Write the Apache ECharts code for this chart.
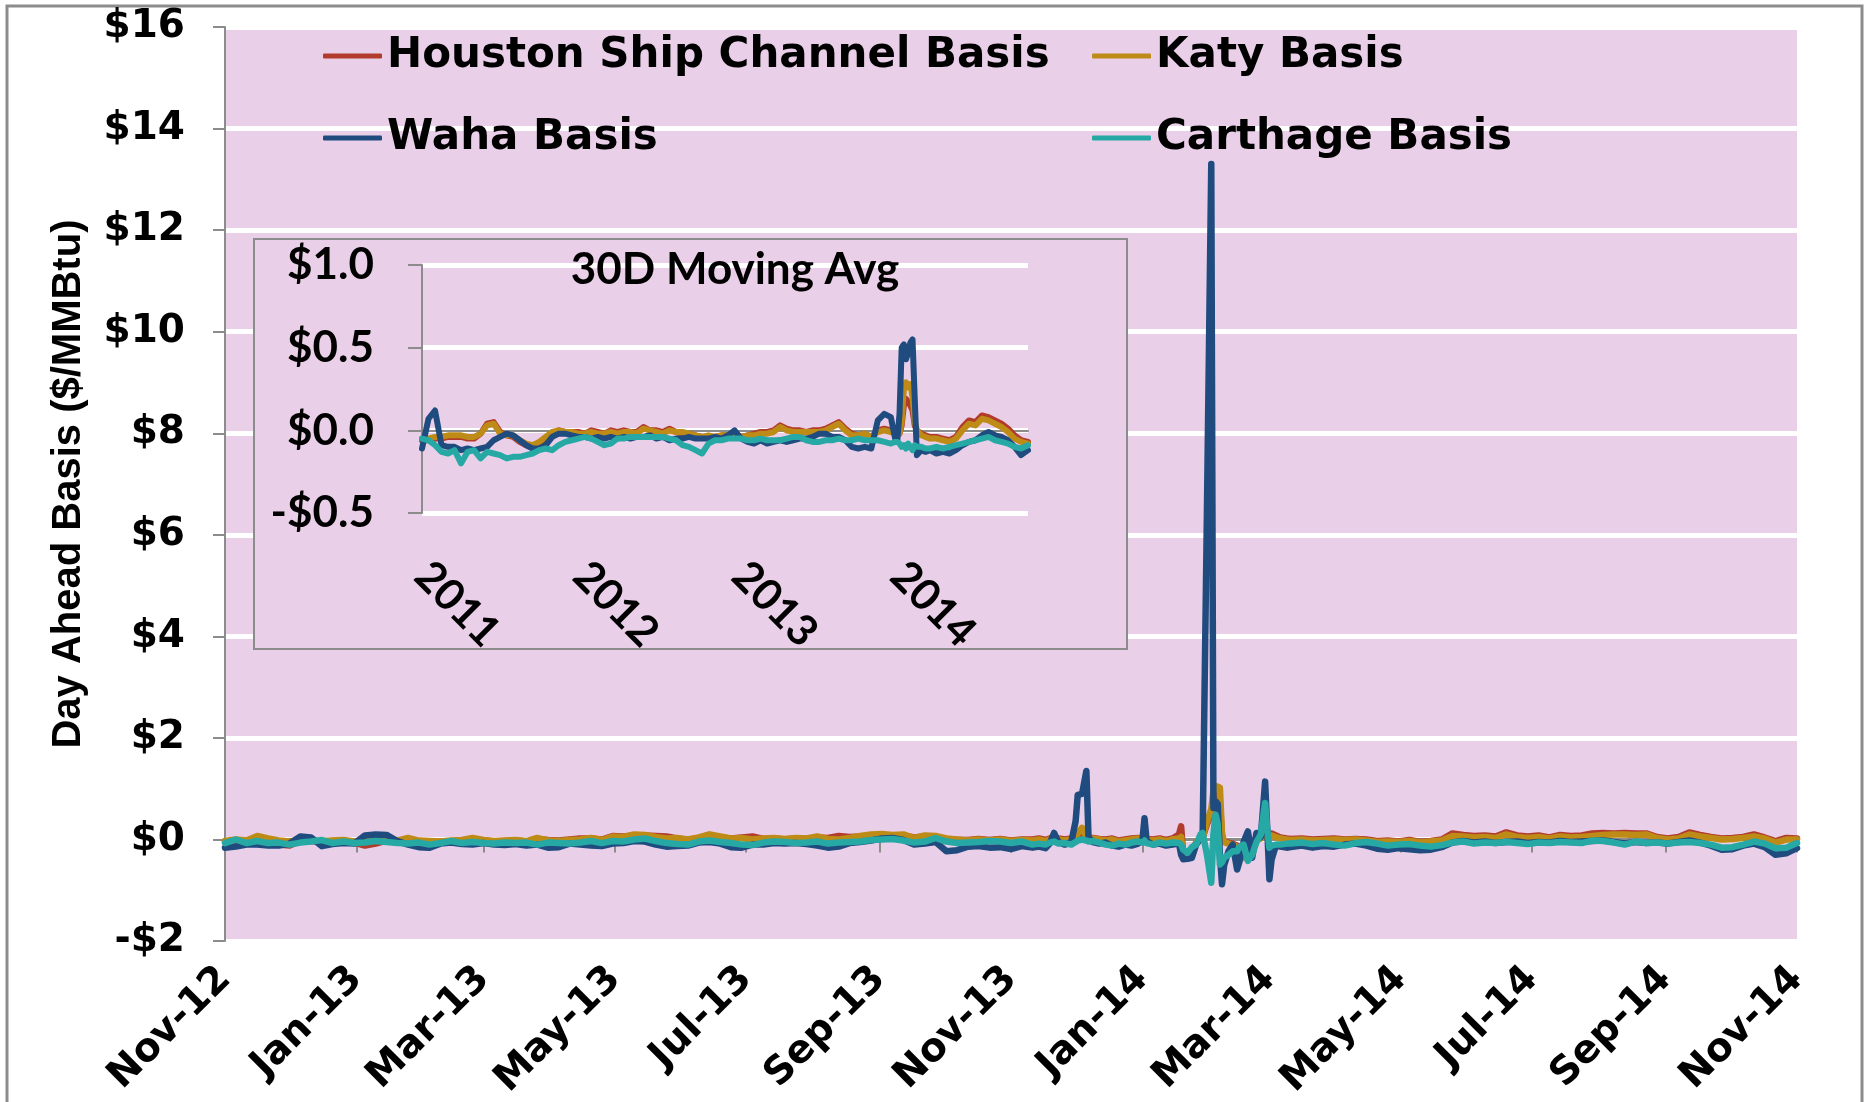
<!DOCTYPE html>
<html><head><meta charset="utf-8">
<script src="https://cdn.jsdelivr.net/npm/echarts@6/dist/echarts.min.js"></script>
<style>html,body{margin:0;padding:0;background:#fff}#c{width:1866px;height:1102px}</style>
</head><body><div id="c"></div>
<script>
// ---------- main chart: day offsets from 2012-11-01 ----------
const mainDays = [
0,5,10,15,20,25,30,35,40,45,50,55,60,65,70,75,80,85,90,95,100,105,110,115,120,125,130,135,140,145,150,155,160,165,170,175,180,185,
190,195,200,205,210,215,220,225,230,235,240,245,250,255,260,265,270,275,280,285,290,295,300,305,310,315,320,325,330,335,340,345,350,355,360,365,370,
375,378,381,383,385,387,390,393,395,396,398,400,401,403,406,409,412,415,418,421,424,426,427,428,431,434,437,440,443,444,445,447,449,451,453,454,456,458,459,460,461,462,463,464,466,468,470,471,473,475,477,479,481,483,484,485,486,488,490,493,
495,500,505,510,515,520,525,530,535,540,545,550,555,560,565,570,575,580,585,590,595,600,605,610,615,620,625,630,635,640,645,650,655,660,665,670,675,680,685,690,695,700,705,710,715,720,725,730];

const houston = [
-0.04,-0.02,-0.03,0.02,-0.02,-0.1,-0.12,-0.03,-0.03,-0.05,-0.03,-0.02,-0.06,-0.12,-0.08,-0.02,-0.04,0.0,-0.04,-0.05,-0.06,-0.04,-0.03,0.0,-0.02,-0.04,-0.03,-0.02,-0.04,0.01,-0.01,-0.02,0.0,0.02,0.02,0.0,0.07,0.06,
0.08,0.08,0.07,0.06,0.02,-0.01,0.03,0.09,0.04,0.02,0.04,0.06,0.01,0.02,0.0,0.02,0.01,0.04,0.03,0.07,0.05,0.06,0.08,0.09,0.08,0.08,0.04,0.06,0.05,0.01,-0.01,-0.01,0.01,-0.01,0.01,-0.02,0.0,
0.0,0.02,-0.01,0.02,0.04,0.02,0.0,0.02,0.04,0.08,0.1,0.04,0.01,0.03,0.01,0.0,0.02,-0.02,0.0,0.02,0.03,0.02,0.04,0.01,0.0,0.02,-0.01,0.02,0.1,0.26,-0.3,-0.35,-0.3,-0.05,0.0,0.04,0.3,0.5,0.8,0.88,0.85,0.7,0.08,-0.04,-0.06,-0.08,-0.12,-0.15,-0.3,-0.12,-0.04,0.02,0.04,0.1,0.08,0.1,0.12,0.08,0.04,0.02,
0.01,0.02,0.0,0.01,0.02,0.0,0.01,0.0,-0.03,-0.02,-0.04,-0.01,-0.05,-0.03,0.0,0.12,0.09,0.07,0.08,0.06,0.14,0.08,0.06,0.08,0.04,0.09,0.07,0.08,0.12,0.13,0.12,0.13,0.12,0.12,0.05,0.02,0.05,0.14,0.09,0.05,0.02,0.03,0.05,0.1,0.04,-0.03,0.03,0.02];

const katy = [
-0.03,0.0,-0.02,0.07,0.02,-0.02,-0.04,-0.01,-0.02,-0.03,-0.02,-0.01,-0.04,-0.03,-0.01,0.0,-0.02,0.03,-0.02,-0.03,-0.04,-0.02,-0.01,0.03,-0.01,-0.03,-0.02,-0.01,-0.03,0.03,-0.02,-0.03,-0.01,0.0,0.03,-0.01,0.06,0.05,
0.1,0.09,0.05,0.02,0.03,0.0,0.04,0.1,0.06,0.02,0.03,0.0,0.02,0.03,0.01,0.03,0.02,0.06,0.01,0.0,0.03,0.07,0.1,0.11,0.09,0.1,0.03,0.08,0.07,0.02,0.0,-0.02,0.0,-0.02,0.0,-0.03,-0.01,
-0.02,0.0,-0.03,0.0,0.02,0.0,-0.02,0.0,0.05,0.12,0.23,0.05,0.0,0.02,0.0,-0.02,0.0,-0.04,-0.02,0.0,0.02,0.0,0.05,0.0,-0.02,0.0,-0.03,0.0,0.02,0.05,-0.3,-0.33,-0.28,-0.05,0.0,0.05,0.35,0.6,0.95,1.05,1.04,1.02,0.1,-0.05,-0.08,-0.1,-0.15,-0.2,-0.36,-0.15,-0.05,0.0,0.02,0.08,0.05,0.07,0.08,0.05,0.02,0.0,
-0.01,0.0,-0.02,-0.01,0.0,-0.01,0.0,-0.02,-0.05,-0.04,-0.05,-0.03,-0.06,-0.04,-0.02,0.07,0.06,0.04,0.05,0.03,0.1,0.05,0.03,0.05,0.02,0.06,0.04,0.05,0.07,0.09,0.1,0.1,0.09,0.1,0.03,0.0,0.02,0.1,0.06,0.03,0.0,0.01,0.03,0.06,0.02,-0.06,0.0,0.0];

const waha = [
-0.16,-0.14,-0.1,-0.1,-0.12,-0.12,-0.08,0.06,0.04,-0.13,-0.09,-0.07,-0.08,0.08,0.1,0.09,-0.03,-0.1,-0.15,-0.16,-0.08,-0.06,-0.09,-0.1,-0.07,-0.1,-0.11,-0.09,-0.12,-0.1,-0.16,-0.15,-0.08,-0.1,-0.12,-0.13,-0.08,-0.07,
-0.03,-0.04,-0.1,-0.14,-0.13,-0.12,-0.06,-0.05,-0.08,-0.15,-0.16,-0.1,-0.1,-0.07,-0.08,-0.07,-0.09,-0.12,-0.16,-0.14,-0.07,-0.05,-0.02,0.02,0.03,-0.01,-0.1,-0.08,-0.05,-0.23,-0.21,-0.14,-0.13,-0.16,-0.15,-0.19,-0.13,
-0.16,-0.14,-0.17,-0.08,0.13,-0.05,-0.1,-0.05,0.36,0.88,0.9,1.35,0.05,-0.05,-0.08,-0.06,-0.12,-0.14,-0.1,-0.12,-0.08,-0.02,0.42,-0.03,-0.1,-0.08,-0.12,-0.1,-0.08,-0.3,-0.39,-0.38,-0.36,-0.1,0.02,0.1,6.5,13.3,0.62,0.75,0.7,-0.3,-0.88,-0.5,-0.23,-0.1,-0.59,-0.45,-0.05,0.16,-0.36,0.13,0.05,1.14,0.2,-0.78,-0.4,-0.12,-0.14,-0.16,
-0.15,-0.12,-0.16,-0.13,-0.14,-0.1,-0.08,-0.12,-0.18,-0.2,-0.17,-0.19,-0.21,-0.2,-0.15,-0.06,-0.03,-0.06,-0.04,-0.07,-0.05,-0.04,-0.07,-0.05,-0.06,-0.03,-0.05,-0.04,-0.03,-0.02,-0.05,-0.08,-0.05,-0.07,-0.06,-0.08,-0.05,-0.02,-0.06,-0.12,-0.2,-0.19,-0.12,-0.08,-0.15,-0.3,-0.27,-0.17];

const carthage = [
-0.07,0.0,-0.07,-0.03,-0.07,-0.06,-0.1,-0.06,-0.04,-0.01,-0.07,-0.04,-0.07,-0.06,-0.03,-0.05,-0.07,-0.08,-0.06,-0.1,-0.07,-0.03,-0.07,-0.05,-0.07,-0.08,-0.06,-0.07,-0.06,-0.1,-0.06,-0.07,-0.08,-0.06,-0.03,-0.07,-0.03,-0.04,
0.0,0.02,-0.03,-0.07,-0.09,-0.1,-0.04,-0.02,-0.05,-0.07,-0.1,-0.11,-0.06,-0.04,-0.05,-0.07,-0.06,-0.04,-0.08,-0.06,-0.05,-0.04,-0.01,0.0,0.01,-0.02,-0.06,-0.04,0.03,-0.04,-0.07,-0.06,-0.05,-0.03,-0.04,-0.07,-0.04,
-0.1,-0.08,-0.1,-0.06,-0.04,-0.08,-0.07,-0.1,-0.05,-0.02,0.0,-0.02,-0.04,-0.03,-0.06,-0.1,-0.12,-0.08,-0.1,-0.06,-0.04,-0.06,-0.02,-0.07,-0.1,-0.06,-0.08,-0.06,-0.07,-0.1,-0.2,-0.26,-0.15,-0.1,0.1,0.13,-0.3,-0.85,0.1,0.49,0.3,-0.49,-0.45,-0.36,-0.3,-0.23,-0.23,-0.15,-0.1,-0.42,-0.3,-0.05,0.1,0.72,0.2,-0.16,-0.12,-0.1,-0.1,-0.08,
-0.08,-0.06,-0.09,-0.07,-0.1,-0.12,-0.07,-0.05,-0.08,-0.12,-0.1,-0.09,-0.12,-0.14,-0.11,-0.06,-0.04,-0.08,-0.06,-0.07,-0.05,-0.07,-0.09,-0.06,-0.07,-0.05,-0.06,-0.07,-0.02,-0.03,-0.06,-0.1,-0.04,-0.07,-0.06,-0.08,-0.06,-0.05,-0.07,-0.1,-0.16,-0.15,-0.1,-0.04,-0.08,-0.17,-0.16,-0.07];

const mainTickDays = [0,61,120,181,242,304,365,426,485,546,607,669,730];
const mainTickLabels = ['Nov-12','Jan-13','Mar-13','May-13','Jul-13','Sep-13','Nov-13','Jan-14','Mar-14','May-14','Jul-14','Sep-14','Nov-14'];

// ---------- inset (30D moving avg): day offsets from 2011-01-01 ----------
const insetDays = [
0,15,30,45,60,75,90,105,120,135,150,165,180,195,210,225,240,255,270,285,300,315,330,345,360,375,390,405,420,435,450,465,480,495,510,525,540,555,570,585,600,615,630,645,660,675,690,705,720,735,750,765,780,795,810,825,840,855,870,885,900,915,930,945,960,975,990,1005,1020,1035,1050,1065,1080,
1090,1095,1100,1105,1110,1115,1120,1125,1130,1135,1140,
1150,1160,1170,
1185,1200,1215,1230,1245,1260,1275,1290,1305,1320,1335,1350,1365,1380,
1396];

const insetHouston = [
-0.06,-0.06,-0.05,-0.05,-0.04,-0.04,-0.04,-0.05,-0.05,-0.02,0.04,0.05,-0.01,-0.03,-0.04,-0.07,-0.09,-0.1,-0.08,-0.05,-0.02,0.0,-0.01,-0.01,-0.01,-0.02,0.0,-0.01,-0.02,0.0,-0.01,0.0,-0.01,-0.01,0.02,0.0,0.0,-0.01,0.01,-0.01,-0.02,-0.02,-0.03,-0.04,-0.04,-0.04,-0.03,-0.03,-0.02,-0.04,-0.03,-0.02,-0.01,-0.01,0.0,0.03,0.01,0.0,0.0,-0.01,0.0,0.0,0.01,0.03,0.05,0.01,-0.02,-0.03,-0.02,-0.04,0.0,0.01,0.0,
-0.02,-0.02,-0.02,0.03,0.15,0.19,0.17,0.15,0.12,0.03,0.0,
-0.02,-0.03,-0.04,
-0.04,-0.05,-0.06,-0.04,0.02,0.06,0.05,0.09,0.08,0.06,0.04,0.01,-0.03,-0.06,
-0.07];

const insetKaty = [
-0.05,-0.05,-0.04,-0.04,-0.03,-0.03,-0.03,-0.04,-0.04,-0.02,0.03,0.04,-0.02,-0.03,-0.03,-0.06,-0.08,-0.09,-0.07,-0.04,-0.01,0.0,-0.01,-0.01,-0.02,-0.02,-0.01,-0.02,-0.02,-0.01,-0.02,-0.01,-0.01,-0.02,0.01,0.0,-0.01,-0.02,0.0,-0.01,-0.01,-0.02,-0.03,-0.04,-0.03,-0.04,-0.03,-0.03,-0.03,-0.04,-0.03,-0.03,-0.02,-0.02,-0.01,0.02,0.0,-0.01,-0.01,-0.01,-0.01,-0.01,0.0,0.02,0.04,0.0,-0.03,-0.03,-0.02,-0.04,-0.01,0.0,-0.01,
-0.02,-0.02,-0.02,0.05,0.25,0.29,0.26,0.28,0.2,0.05,0.0,
-0.03,-0.04,-0.05,
-0.05,-0.06,-0.07,-0.05,0.0,0.04,0.03,0.07,0.06,0.04,0.02,-0.01,-0.05,-0.07,
-0.08];

const insetWaha = [
-0.11,0.07,0.12,-0.09,-0.1,-0.1,-0.12,-0.11,-0.12,-0.11,-0.1,-0.06,-0.04,-0.02,-0.03,-0.06,-0.09,-0.11,-0.11,-0.09,-0.04,-0.02,-0.02,-0.03,-0.04,-0.04,-0.05,-0.04,-0.05,-0.04,-0.05,-0.04,-0.05,-0.04,-0.04,-0.03,-0.05,-0.04,-0.06,-0.05,-0.05,-0.04,-0.05,-0.05,-0.05,-0.04,-0.05,-0.03,0.0,-0.05,-0.07,-0.08,-0.06,-0.08,-0.07,-0.06,-0.07,-0.06,-0.05,-0.05,-0.04,-0.02,-0.02,-0.04,-0.04,-0.06,-0.1,-0.11,-0.1,-0.11,0.06,0.1,0.08,
-0.05,-0.06,0.1,0.5,0.52,0.43,0.47,0.53,0.55,0.2,-0.15,
-0.12,-0.13,-0.12,
-0.14,-0.13,-0.14,-0.12,-0.09,-0.07,-0.06,-0.03,-0.01,-0.03,-0.04,-0.06,-0.1,-0.15,
-0.12];

const insetCarthage = [
-0.05,-0.06,-0.09,-0.13,-0.14,-0.12,-0.2,-0.13,-0.12,-0.17,-0.13,-0.14,-0.15,-0.17,-0.16,-0.16,-0.15,-0.14,-0.12,-0.11,-0.12,-0.09,-0.07,-0.06,-0.05,-0.04,-0.05,-0.07,-0.09,-0.08,-0.05,-0.05,-0.04,-0.04,-0.04,-0.04,-0.04,-0.04,-0.05,-0.06,-0.09,-0.1,-0.12,-0.14,-0.08,-0.06,-0.06,-0.05,-0.05,-0.05,-0.06,-0.06,-0.05,-0.06,-0.06,-0.06,-0.05,-0.04,-0.04,-0.06,-0.07,-0.07,-0.06,-0.06,-0.05,-0.06,-0.06,-0.05,-0.06,-0.06,-0.06,-0.07,-0.08,
-0.07,-0.07,-0.08,-0.1,-0.09,-0.11,-0.08,-0.1,-0.12,-0.09,-0.1,
-0.1,-0.11,-0.11,
-0.1,-0.11,-0.1,-0.09,-0.08,-0.07,-0.06,-0.05,-0.04,-0.06,-0.07,-0.08,-0.1,-0.11,
-0.09];

const insetTickDays = [0,365,731,1096];
const insetTickLabels = ['2011','2012','2013','2014'];

const seriesNames = ['Houston Ship Channel Basis','Katy Basis','Waha Basis','Carthage Basis'];
const seriesColors = ['#B13C2C','#BE8B16','#1F4B7F','#26A9A5'];

// ---------- build option ----------
const pink = '#E9CFE8';
const grey = '#8c8c8c';
const boldSans = {fontFamily:'DejaVu Sans', fontWeight:'bold', color:'#000'};
const lato = {fontFamily:'Lato', fontWeight:'bold', color:'#000'};

function pairs(days, vals){ return days.map((d,i)=>[d, vals[i]]); }
const mainVals = [houston, katy, waha, carthage];
const insetVals = [insetHouston, insetKaty, insetWaha, insetCarthage];

const series = [];
seriesNames.forEach((n,i)=>{
  series.push({type:'line', name:n, xAxisIndex:0, yAxisIndex:0, data:pairs(mainDays, mainVals[i]),
    showSymbol:false, symbol:'none', z:2, color:seriesColors[i],
    lineStyle:{color:seriesColors[i], width:6.5, cap:'round', join:'round'}});
});
seriesNames.forEach((n,i)=>{
  series.push({type:'line', name:n, xAxisIndex:2, yAxisIndex:1, data:pairs(insetDays, insetVals[i]),
    showSymbol:false, symbol:'none', z:5, color:seriesColors[i],
    lineStyle:{color:seriesColors[i], width:6, cap:'round', join:'round'}});
});

const legendCommon = {padding:0, itemWidth:59, itemHeight:5, icon:'roundRect', itemGap:0, selectedMode:false,
  textStyle:Object.assign({fontSize:42}, boldSans)};
const legendPos = [[323,35],[1092,35],[323,117],[1092,117]];

const option = {
  animation:false,
  backgroundColor:'#fff',
  legend: seriesNames.map((n,i)=>Object.assign({data:[n], left:legendPos[i][0], top:legendPos[i][1]}, legendCommon)),
  grid:[
    {left:225, top:27, width:1572, height:919, show:true, backgroundColor:pink, borderWidth:0},
    {left:422, top:265, width:606, height:248, show:false}
  ],
  xAxis:[
    {gridIndex:0, type:'value', min:0, max:730, position:'bottom',
     axisLine:{show:false, onZero:false}, axisTick:{show:false}, splitLine:{show:false},
     axisLabel:Object.assign({customValues:mainTickDays, rotate:45, margin:32, fontSize:39,
       formatter:v=>mainTickLabels[mainTickDays.indexOf(v)]}, boldSans)},
    {gridIndex:0, type:'value', min:0, max:730, position:'top', z:1,
     axisLine:{show:true, onZero:true, lineStyle:{color:grey, width:3}},
     axisTick:{show:true, inside:true, length:13, customValues:mainTickDays, lineStyle:{color:grey, width:2}},
     axisLabel:{show:false}, splitLine:{show:false}},
    {gridIndex:1, type:'value', min:0, max:1396, position:'bottom', z:3,
     axisLine:{show:false, onZero:false}, axisTick:{show:false}, splitLine:{show:false},
     axisLabel:Object.assign({customValues:insetTickDays, rotate:-45, margin:56, fontSize:43,
       formatter:v=>insetTickLabels[insetTickDays.indexOf(v)]}, lato)},
    {gridIndex:1, type:'value', min:0, max:1396, position:'top', z:4,
     axisLine:{show:true, onZero:true, lineStyle:{color:grey, width:2}},
     axisTick:{show:false}, axisLabel:{show:false}, splitLine:{show:false}}
  ],
  yAxis:[
    {gridIndex:0, type:'value', min:-2, max:16, interval:2,
     name:'Day Ahead Basis ($/MMBtu)', nameLocation:'middle', nameGap:136,
     nameTextStyle:{fontFamily:'Liberation Sans', fontWeight:'bold', fontSize:40, color:'#000'},
     axisLine:{show:true, lineStyle:{color:grey, width:2}},
     axisTick:{show:true, length:12, lineStyle:{color:grey, width:2}},
     splitLine:{show:true, lineStyle:{color:'#ffffff', width:5}},
     axisLabel:Object.assign({margin:40, fontSize:39, formatter:v=> v<0 ? '-$'+(-v) : '$'+v}, boldSans)},
    {gridIndex:1, type:'value', min:-0.5, max:1.0, interval:0.5, z:3,
     axisLine:{show:true, lineStyle:{color:grey, width:2}},
     axisTick:{show:true, length:14, lineStyle:{color:grey, width:2}},
     splitLine:{show:true, lineStyle:{color:'#ffffff', width:5}},
     axisLabel:Object.assign({margin:48, fontSize:44, formatter:v=> v<0 ? '-$'+(-v).toFixed(1) : '$'+v.toFixed(1)}, lato)}
  ],
  graphic:[
    {type:'rect', z:0, silent:true, shape:{x:7, y:6, width:1855, height:1100}, style:{fill:'none', stroke:grey, lineWidth:3}},
    {type:'rect', z:1, silent:true, shape:{x:254, y:239, width:873, height:410}, style:{fill:pink, stroke:grey, lineWidth:2}},
    {type:'text', z:6, x:735, y:270, silent:true, style:{text:'30D Moving Avg', fontFamily:'Lato', fontWeight:'bold', fontSize:44, fill:'#000', align:'center', verticalAlign:'middle'}}
  ],
  series:series
};

[houston,katy,waha,carthage].forEach((a,i)=>{ if(a.length!==mainDays.length) console.error('main len mismatch', i, a.length, mainDays.length); });
insetVals.forEach((a,i)=>{ if(a.length!==insetDays.length) console.error('inset len mismatch', i, a.length, insetDays.length); });

const chart = echarts.init(document.getElementById('c'), null, {renderer:'canvas'});
chart.setOption(option);
</script></body></html>
